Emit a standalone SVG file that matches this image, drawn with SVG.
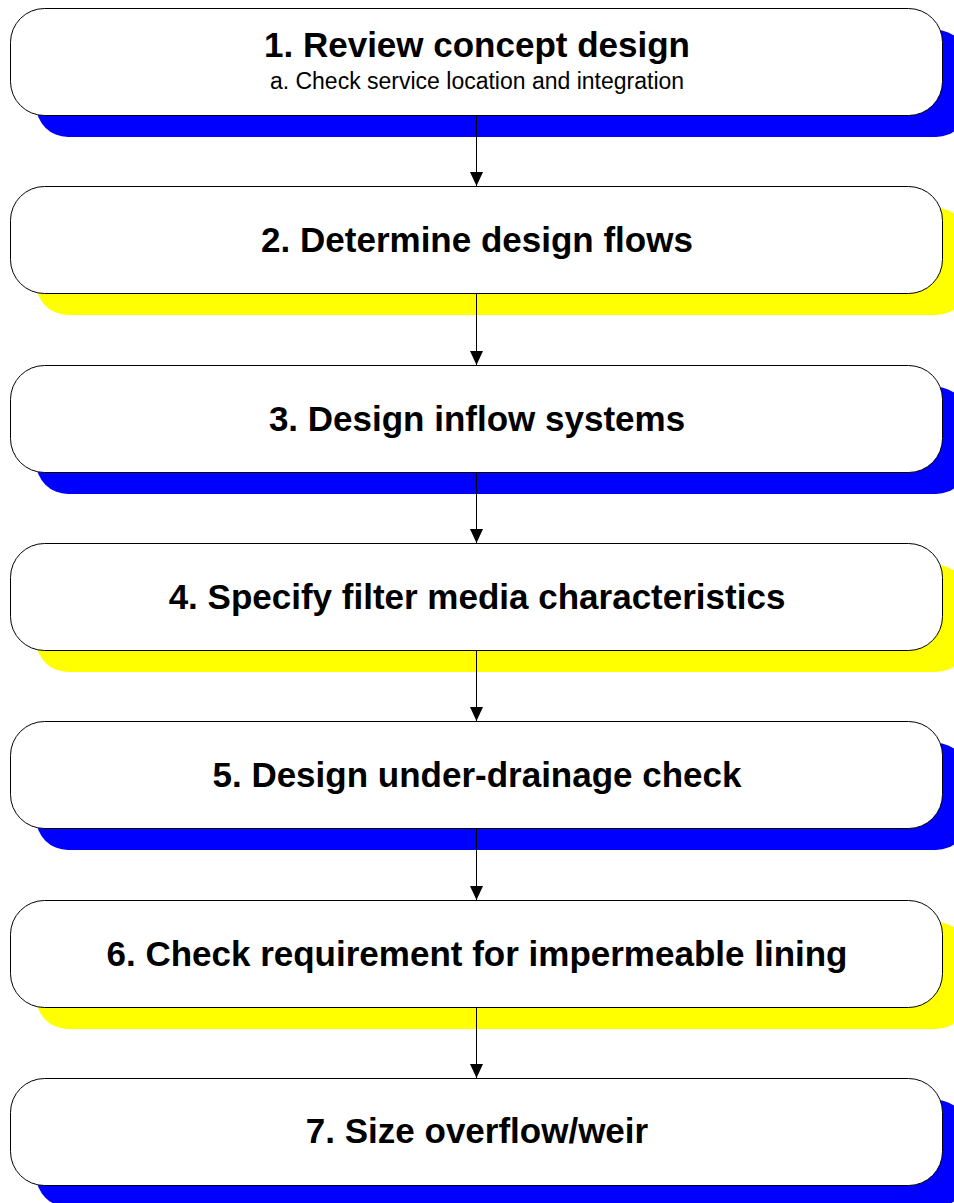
<svg xmlns="http://www.w3.org/2000/svg" width="954" height="1203" viewBox="0 0 954 1203">
  <style>
    .box { fill: #ffffff; stroke: #000000; stroke-width: 1; }
    .sh-blue { fill: #0000ff; }
    .sh-yellow { fill: #ffff00; }
    .title { font-family: "Liberation Sans", Arial, sans-serif; font-weight: bold; font-size: 35px; fill: #000000; text-anchor: middle; }
    .sub { font-family: "Liberation Sans", Arial, sans-serif; font-size: 23px; fill: #000000; text-anchor: middle; }
    .conn { stroke: #000000; stroke-width: 1; fill: none; }
  </style>
  <defs>
    <marker id="arrow" markerUnits="userSpaceOnUse" markerWidth="14" markerHeight="13" refX="14" refY="6.5" orient="auto">
      <path d="M0,0 L14,6.5 L0,13 Z" fill="#000000"/>
    </marker>
  </defs>

  <rect width="954" height="1203" fill="#ffffff"/>

  <!-- step boxes: drop shadow first, then the white rounded box -->
  <g id="step1">
    <rect class="sh-blue" x="36" y="30" width="932" height="107" rx="32"/>
    <rect class="box" x="10.5" y="8.5" width="932" height="107" rx="34"/>
    <text class="title" x="477" y="57">1. Review concept design</text>
    <text class="sub" x="477" y="89">a. Check service location and integration</text>
  </g>

  <g id="step2">
    <rect class="sh-yellow" x="36" y="208" width="932" height="107" rx="32"/>
    <rect class="box" x="10.5" y="186.5" width="932" height="107" rx="34"/>
    <text class="title" x="477" y="252">2. Determine design flows</text>
  </g>

  <g id="step3">
    <rect class="sh-blue" x="36" y="387" width="932" height="107" rx="32"/>
    <rect class="box" x="10.5" y="365.5" width="932" height="107" rx="34"/>
    <text class="title" x="477" y="431">3. Design inflow systems</text>
  </g>

  <g id="step4">
    <rect class="sh-yellow" x="36" y="565" width="932" height="107" rx="32"/>
    <rect class="box" x="10.5" y="543.5" width="932" height="107" rx="34"/>
    <text class="title" x="477" y="609">4. Specify filter media characteristics</text>
  </g>

  <g id="step5">
    <rect class="sh-blue" x="36" y="743" width="932" height="107" rx="32"/>
    <rect class="box" x="10.5" y="721.5" width="932" height="107" rx="34"/>
    <text class="title" x="477" y="787">5. Design under-drainage check</text>
  </g>

  <g id="step6">
    <rect class="sh-yellow" x="36" y="922" width="932" height="107" rx="32"/>
    <rect class="box" x="10.5" y="900.5" width="932" height="107" rx="34"/>
    <text class="title" x="477" y="966">6. Check requirement for impermeable lining</text>
  </g>

  <g id="step7">
    <rect class="sh-blue" x="36" y="1100" width="932" height="107" rx="32"/>
    <rect class="box" x="10.5" y="1078.5" width="932" height="107" rx="34"/>
    <text class="title" x="477" y="1143">7. Size overflow/weir</text>
  </g>

  <!-- connectors between consecutive steps -->
  <g id="connectors">
    <line class="conn" x1="476.5" y1="116" x2="476.5" y2="186" marker-end="url(#arrow)"/>
    <line class="conn" x1="476.5" y1="294" x2="476.5" y2="365" marker-end="url(#arrow)"/>
    <line class="conn" x1="476.5" y1="473" x2="476.5" y2="543" marker-end="url(#arrow)"/>
    <line class="conn" x1="476.5" y1="651" x2="476.5" y2="721" marker-end="url(#arrow)"/>
    <line class="conn" x1="476.5" y1="829" x2="476.5" y2="900" marker-end="url(#arrow)"/>
    <line class="conn" x1="476.5" y1="1008" x2="476.5" y2="1078" marker-end="url(#arrow)"/>
  </g>
</svg>
